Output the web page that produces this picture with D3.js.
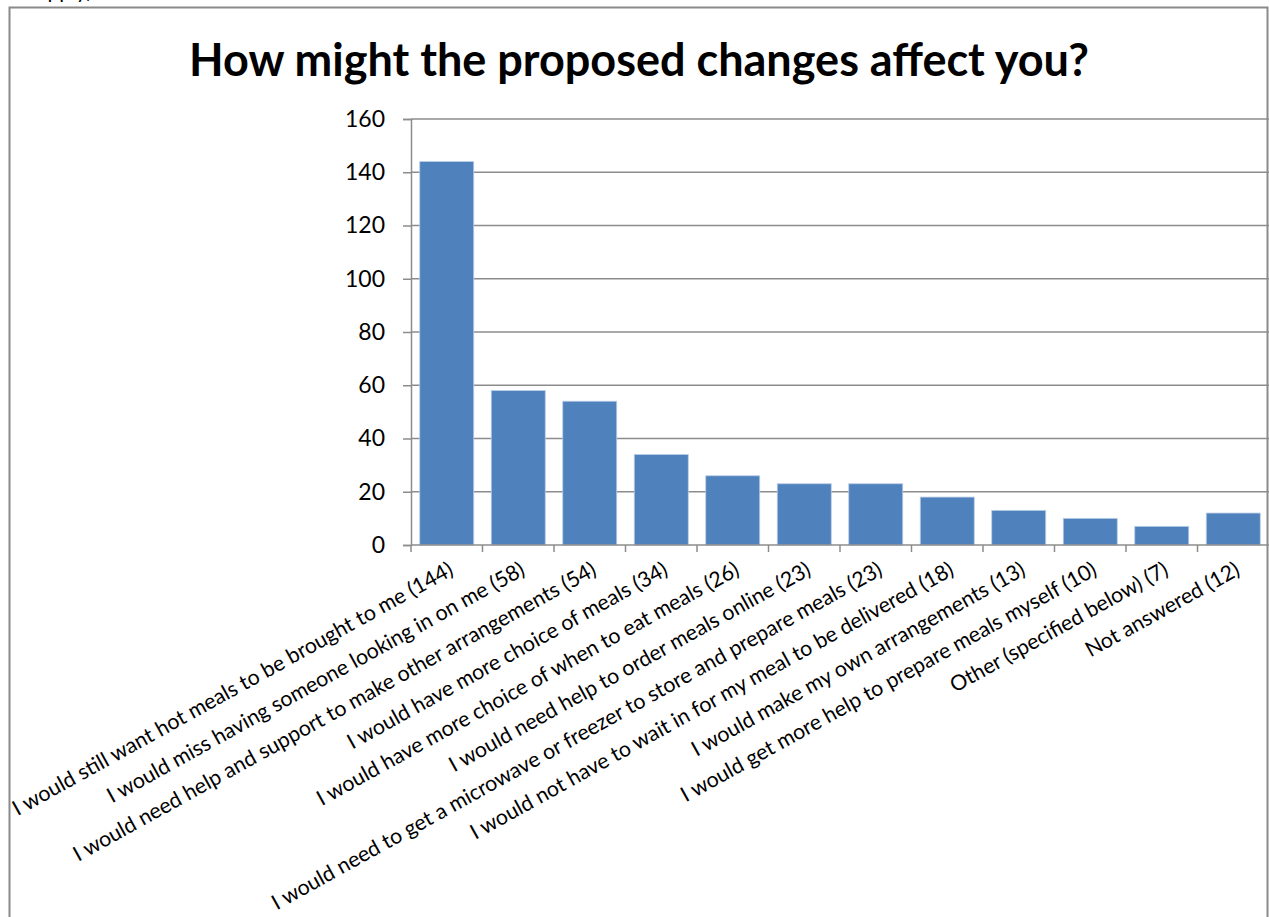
<!DOCTYPE html>
<html>
<head>
<meta charset="utf-8">
<script src="https://cdn.jsdelivr.net/npm/d3@7"></script>
<style>
  html, body { margin: 0; padding: 0; background: #fff; }
  svg { display: block; }
  text { font-family: Lato, "Liberation Sans", sans-serif; fill: #000; }
</style>
</head>
<body>
<svg id="chart" width="1269" height="917"></svg>
<script>
// Survey responses: how the proposed changes might affect respondents
const categories = [
  "I would still want hot meals to be brought to me (144)",
  "I would miss having someone looking in on me (58)",
  "I would need help and support to make other arrangements (54)",
  "I would have more choice of meals (34)",
  "I would have more choice of when to eat meals (26)",
  "I would need help to order meals online (23)",
  "I would need to get a microwave or freezer to store and prepare meals (23)",
  "I would not have to wait in for my meal to be delivered (18)",
  "I would make my own arrangements (13)",
  "I would get more help to prepare meals myself (10)",
  "Other (specified below) (7)",
  "Not answered (12)"
];
const counts = [144, 58, 54, 34, 26, 23, 23, 18, 13, 10, 7, 12];
const yTicks = [0, 20, 40, 60, 80, 100, 120, 140, 160];
const title = "How might the proposed changes affect you?";

const svg = d3.select("#chart");
const plot = { left: 411, right: 1269, top: 119, bottom: 545 };

// Tail of the question line above the chart frame
svg.append("text")
  .attr("x", 92).attr("y", -2)
  .attr("text-anchor", "end")
  .style("font-size", "21px")
  .text("apply)");

// Chart frame
svg.append("rect")
  .attr("x", 9.5).attr("y", 7.5)
  .attr("width", 1258).attr("height", 960)
  .attr("fill", "none")
  .attr("stroke", "#8a8a8a")
  .attr("stroke-width", 2);

// Title
svg.append("text")
  .attr("x", 639).attr("y", 76)
  .attr("text-anchor", "middle")
  .style("font-size", "45px")
  .style("font-weight", "bold")
  .text(title);

const padIn = 0.245, padOut = 0.1225;
const x = d3.scaleBand()
  .domain(categories)
  .range([plot.left, plot.right])
  .paddingInner(padIn)
  .paddingOuter(padOut);

const y = d3.scaleLinear()
  .domain([0, 160])
  .range([plot.bottom, plot.top]);

// Horizontal gridlines
svg.append("g")
  .selectAll("line")
  .data(yTicks.filter(d => d > 0))
  .join("line")
  .attr("x1", plot.left).attr("x2", plot.right)
  .attr("y1", d => y(d)).attr("y2", d => y(d))
  .attr("stroke", "#8c8c8c")
  .attr("stroke-width", 1.5);

// Y axis
const yAxis = d3.axisLeft(y).tickValues(yTicks).tickSize(8).tickPadding(18);
const gy = svg.append("g")
  .attr("transform", `translate(${plot.left},0)`)
  .call(yAxis);
gy.select(".domain").attr("stroke", "#8c8c8c").attr("stroke-width", 1.5);
gy.selectAll(".tick line").attr("stroke", "#8c8c8c").attr("stroke-width", 1.5);
gy.selectAll(".tick text")
  .style("font-size", "23px")
  .style("font-family", "Lato, 'Liberation Sans', sans-serif")
  .attr("fill", "#000");

// Bars
svg.append("g")
  .selectAll("rect")
  .data(counts)
  .join("rect")
  .attr("x", (d, i) => x(categories[i]))
  .attr("y", d => y(d))
  .attr("width", x.bandwidth())
  .attr("height", d => y(0) - y(d))
  .attr("fill", "#4f81bd")
  .attr("stroke", "#b9cde5")
  .attr("stroke-width", 0.8);

// X axis baseline and tick marks at category boundaries
const step = x.step();
const gx = svg.append("g");
gx.append("line")
  .attr("x1", plot.left).attr("x2", plot.right)
  .attr("y1", y(0)).attr("y2", y(0))
  .attr("stroke", "#8c8c8c").attr("stroke-width", 1.5);
const boundary = i => x(categories[i]) - step * padOut;
gx.selectAll("line.tick")
  .data(d3.range(categories.length))
  .join("line")
  .attr("class", "tick")
  .attr("x1", boundary).attr("x2", boundary)
  .attr("y1", y(0)).attr("y2", y(0) + 7)
  .attr("stroke", "#8c8c8c").attr("stroke-width", 1.5);

// Rotated category labels
gx.selectAll("text")
  .data(categories)
  .join("text")
  .attr("text-anchor", "end")
  .attr("transform", d => `translate(${x(d) + x.bandwidth() / 2 + 8},${y(0) + 29}) rotate(-29)`)
  .style("font-size", "21.3px")
  .text(d => d);
</script>
</body>
</html>
